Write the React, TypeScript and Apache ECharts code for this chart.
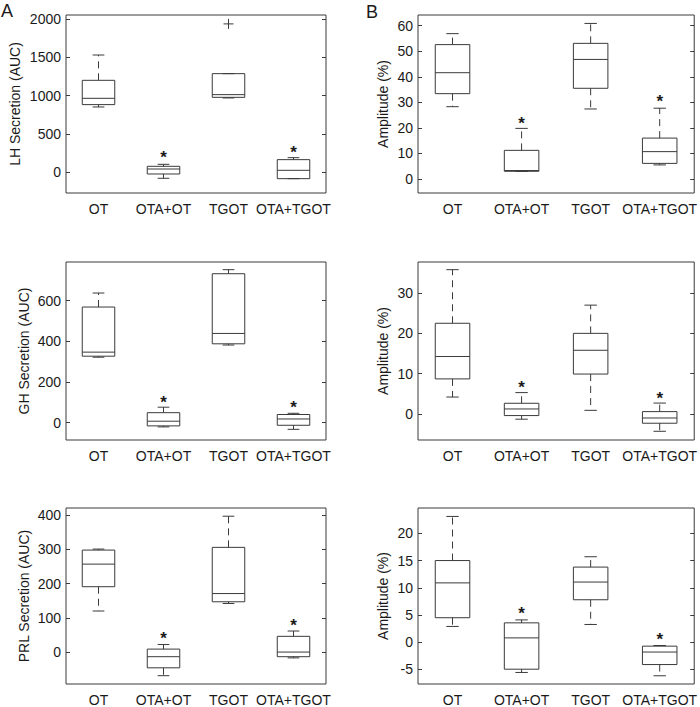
import React, { useEffect, useRef } from "react";
import * as echarts from "echarts";

const categories = ["OT", "OTA+OT", "TGOT", "OTA+TGOT"];

// [lower whisker, Q1, median, Q3, upper whisker]
const lhBoxes = [
  [852, 883, 965, 1200, 1530],
  [-78, -22, 43, 78, 104],
  [970, 978, 1013, 1287, 1287],
  [-83, -83, 26, 165, 191],
];
const lhOutliers = [[2, 1936]];
const lhStars = [[1, 239], [3, 313]];

const lhAmpBoxes = [
  [28.3, 33.4, 41.6, 52.6, 56.9],
  [3.0, 3.0, 3.3, 11.2, 19.8],
  [27.4, 35.5, 46.8, 53.1, 60.9],
  [5.5, 6.1, 10.7, 16.0, 27.7],
];
const lhAmpStars = [[1, 23.1], [3, 31.8]];

const ghBoxes = [
  [322, 327, 347, 569, 638],
  [-21, -16, 7, 49, 76],
  [382, 388, 439, 733, 753],
  [-33, -13, 18, 40, 46],
];
const ghStars = [[1, 120], [3, 92]];

const ghAmpBoxes = [
  [4.2, 8.7, 14.25, 22.5, 35.8],
  [-1.3, -0.4, 1.24, 2.65, 5.3],
  [0.9, 9.9, 15.8, 20.0, 27.0],
  [-4.3, -2.3, -1.0, 0.58, 2.7],
];
const ghAmpStars = [[1, 7.5], [3, 4.9]];

const prlBoxes = [
  [120, 191, 257, 298, 301],
  [-69, -46, -13.5, 8.7, 22],
  [142, 147, 171, 306, 397],
  [-17, -13.5, 0, 46, 61.5],
];
const prlStars = [[1, 51], [3, 89]];

const prlAmpBoxes = [
  [2.9, 4.5, 10.9, 15, 23.1],
  [-5.55, -4.95, 0.8, 3.56, 4.1],
  [3.26, 7.8, 11.05, 13.8, 15.7],
  [-6.16, -4.1, -1.8, -0.72, -0.6],
];
const prlAmpStars = [[1, 6.1], [3, 1.2]];

const lhTicks = [0, 500, 1000, 1500, 2000];
const ampTicks1 = [0, 10, 20, 30, 40, 50, 60];
const ghTicks = [0, 200, 400, 600];
const ampTicks2 = [0, 10, 20, 30];
const prlTicks = [0, 100, 200, 300, 400];
const ampTicks3 = [-5, 0, 5, 10, 15, 20];

const FONT = "'Liberation Sans', Arial, Helvetica, sans-serif";
const LINE = "#3a3a3a";
const TEXT = "#1a1a1a";
const FS = 14;

const panels = [
  { boxes: lhBoxes, outliers: lhOutliers, stars: lhStars, ticks: lhTicks, name: "LH Secretion (AUC)", min: -270, max: 2052, left: 66, top: 15, width: 260, nameGap: 44 },
  { boxes: lhAmpBoxes, outliers: [], stars: lhAmpStars, ticks: ampTicks1, name: "Amplitude (%)", min: -5.5, max: 64.2, left: 418, top: 15, width: 277, nameGap: 28 },
  { boxes: ghBoxes, outliers: [], stars: ghStars, ticks: ghTicks, name: "GH Secretion (AUC)", min: -85.5, max: 790.7, left: 66, top: 262, width: 260, nameGap: 35 },
  { boxes: ghAmpBoxes, outliers: [], stars: ghAmpStars, ticks: ampTicks2, name: "Amplitude (%)", min: -6.46, max: 37.7, left: 418, top: 262, width: 277, nameGap: 28 },
  { boxes: prlBoxes, outliers: [], stars: prlStars, ticks: prlTicks, name: "PRL Secretion (AUC)", min: -93.3, max: 421, left: 66, top: 508, width: 260, nameGap: 35 },
  { boxes: prlAmpBoxes, outliers: [], stars: prlAmpStars, ticks: ampTicks3, name: "Amplitude (%)", min: -7.67, max: 24.65, left: 418, top: 508, width: 277, nameGap: 28 },
];

function renderBox(params: any, api: any) {
  const c = api.value(0);
  const lo = api.coord([c, api.value(1)]);
  const q1 = api.coord([c, api.value(2)]);
  const med = api.coord([c, api.value(3)]);
  const q3 = api.coord([c, api.value(4)]);
  const hi = api.coord([c, api.value(5)]);
  const band = api.size([1, 0])[0];
  const bw = band * 0.5;
  const cw = band * 0.18;
  const cx = med[0];
  const solid = { stroke: LINE, lineWidth: 1, fill: null };
  const dashed = { stroke: LINE, lineWidth: 1, lineDash: [7, 5], fill: null };
  const children: any[] = [];
  if (hi[1] < q3[1] - 0.5) {
    children.push({ type: "line", shape: { x1: cx, y1: q3[1], x2: cx, y2: hi[1] }, style: dashed });
  }
  if (lo[1] > q1[1] + 0.5) {
    children.push({ type: "line", shape: { x1: cx, y1: q1[1], x2: cx, y2: lo[1] }, style: dashed });
  }
  children.push({ type: "line", shape: { x1: cx - cw / 2, y1: hi[1], x2: cx + cw / 2, y2: hi[1] }, style: solid });
  children.push({ type: "line", shape: { x1: cx - cw / 2, y1: lo[1], x2: cx + cw / 2, y2: lo[1] }, style: solid });
  children.push({
    type: "rect",
    shape: { x: cx - bw / 2, y: q3[1], width: bw, height: q1[1] - q3[1] },
    style: { stroke: LINE, lineWidth: 1, fill: "none" },
  });
  children.push({ type: "line", shape: { x1: cx - bw / 2, y1: med[1], x2: cx + bw / 2, y2: med[1] }, style: solid });
  return { type: "group", children };
}

function renderOutlier(params: any, api: any) {
  const p = api.coord([api.value(0), api.value(1)]);
  const s = 5;
  const st = { stroke: LINE, lineWidth: 1 };
  return {
    type: "group",
    children: [
      { type: "line", shape: { x1: p[0] - s, y1: p[1], x2: p[0] + s, y2: p[1] }, style: st },
      { type: "line", shape: { x1: p[0], y1: p[1] - s, x2: p[0], y2: p[1] + s }, style: st },
    ],
  };
}

function renderStar(params: any, api: any) {
  const p = api.coord([api.value(0), api.value(1)]);
  return {
    type: "text",
    x: p[0],
    y: p[1] + 4,
    style: {
      text: "*",
      fill: TEXT,
      font: `bold 17px ${FONT}`,
      textAlign: "center",
      textVerticalAlign: "middle",
    },
  };
}

export default function App() {
  const ref = useRef<HTMLDivElement>(null);
  useEffect(() => {
    if (!ref.current) return;
    const chart = echarts.init(ref.current, null, { renderer: "svg" });
    const grid: any[] = [];
    const xAxis: any[] = [];
    const yAxis: any[] = [];
    const series: any[] = [];
    panels.forEach((p, i) => {
      grid.push({
        left: p.left,
        top: p.top,
        width: p.width,
        height: 178,
        show: true,
        borderColor: LINE,
        borderWidth: 1,
        backgroundColor: "transparent",
      });
      xAxis.push({
        type: "category",
        gridIndex: i,
        data: categories,
        axisLine: { show: false },
        axisTick: { show: false },
        splitLine: { show: false },
        axisLabel: { interval: 0, color: TEXT, fontSize: FS, fontFamily: FONT, margin: 9 },
      });
      yAxis.push({
        type: "value",
        gridIndex: i,
        min: p.min,
        max: p.max,
        position: "left",
        name: p.name,
        nameLocation: "middle",
        nameGap: p.nameGap,
        nameTextStyle: { color: TEXT, fontSize: FS, fontFamily: FONT },
        axisLine: { show: false },
        splitLine: { show: false },
        axisTick: { show: true, inside: true, length: 4, customValues: p.ticks, lineStyle: { color: LINE } },
        axisLabel: {
          customValues: p.ticks,
          formatter: (v: number) => String(v),
          color: TEXT,
          fontSize: FS,
          fontFamily: FONT,
          margin: 5,
        },
      });
      yAxis.push({
        type: "value",
        gridIndex: i,
        min: p.min,
        max: p.max,
        position: "right",
        axisLine: { show: false },
        splitLine: { show: false },
        axisTick: { show: true, inside: true, length: 4, customValues: p.ticks, lineStyle: { color: LINE } },
        axisLabel: { show: false },
      });
      const yIdx = i * 2;
      series.push({
        type: "custom",
        xAxisIndex: i,
        yAxisIndex: yIdx,
        renderItem: renderBox,
        encode: { x: 0, y: [1, 2, 3, 4, 5] },
        data: p.boxes.map((b, k) => [k, ...b]),
        silent: true,
      });
      if (p.outliers.length) {
        series.push({
          type: "custom",
          xAxisIndex: i,
          yAxisIndex: yIdx,
          renderItem: renderOutlier,
          encode: { x: 0, y: 1 },
          data: p.outliers,
          silent: true,
        });
      }
      series.push({
        type: "custom",
        xAxisIndex: i,
        yAxisIndex: yIdx,
        renderItem: renderStar,
        encode: { x: 0, y: 1 },
        data: p.stars,
        silent: true,
      });
    });
    chart.setOption({
      animation: false,
      textStyle: { fontFamily: FONT },
      grid,
      xAxis,
      yAxis,
      series,
      graphic: [
        { type: "text", left: 1, top: 2, style: { text: "A", fill: TEXT, font: `18px ${FONT}` } },
        { type: "text", left: 366, top: 3, style: { text: "B", fill: TEXT, font: `18px ${FONT}` } },
      ],
    });
    return () => chart.dispose();
  }, []);
  return (
    <div
      ref={ref}
      style={{ position: "absolute", left: 0, top: 0, width: 700, height: 707, background: "#fff" }}
    />
  );
}
